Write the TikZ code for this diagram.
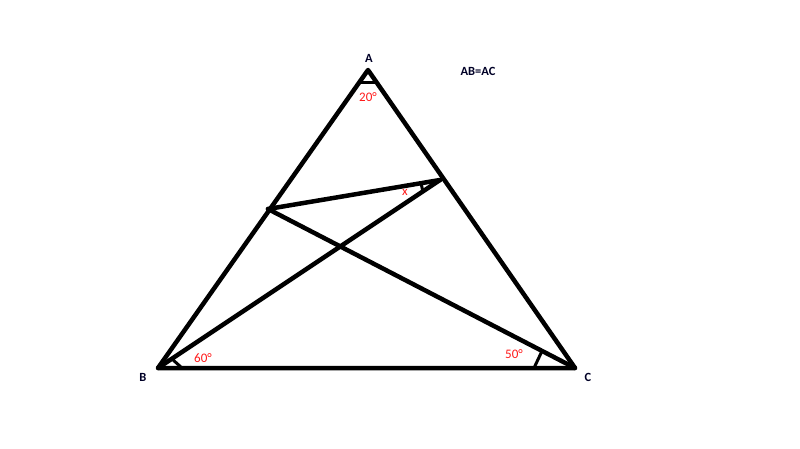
\documentclass[tikz,border=0pt]{standalone}
\usepackage{fontspec}
\setmainfont{Carlito}
\begin{document}
\begin{tikzpicture}[x=1pt,y=-1pt,
  edge/.style={line width=4.5pt,line cap=round,line join=round},
  anglemark/.style={line width=3pt},
  pt/.style={font=\fontsize{12.5}{14}\selectfont\bfseries,text=black!85!blue,inner sep=0pt},
  ang/.style={font=\fontsize{13}{15}\selectfont,text=red!90!white,inner sep=0pt}]
\useasboundingbox (0,0) rectangle (800,449);
\coordinate (A) at (368,70);
\coordinate (B) at (158,368);
\coordinate (C) at (575,368);
\coordinate (F) at (268,209);
\coordinate (E) at (440,180);
\draw[edge] (A) -- (B) -- (C) -- cycle;
\draw[edge] (B) -- (E);
\draw[edge] (C) -- (F);
\draw[edge] (F) -- (E);
% angle marks
\coordinate (a1) at (359,83); \coordinate (a2) at (377,83);
\draw[anglemark] (a1) -- (a2);
\coordinate (b1) at (172,359); \coordinate (b2) at (182,368);
\draw[anglemark] (b1) -- (b2);
\coordinate (c1) at (534,368); \coordinate (c2) at (542,351);
\draw[anglemark] (c1) -- (c2);
\coordinate (e1) at (421,183); \coordinate (e2) at (423,192);
\draw[anglemark] (e1) -- (e2);
% labels
\node[pt] (lA) at (369,58) {A};
\node[pt] (lB) at (143,377) {B};
\node[pt] (lC) at (588,377) {C};
\node[pt] (eq) at (478,71) {AB=AC};
\node[ang] (l20) at (368,97) {20°};
\node[ang] (l60) at (203,358) {60°};
\node[ang] (l50) at (514,354) {50°};
\node[ang] (lx) at (405,192) {x};
\end{tikzpicture}
\end{document}
